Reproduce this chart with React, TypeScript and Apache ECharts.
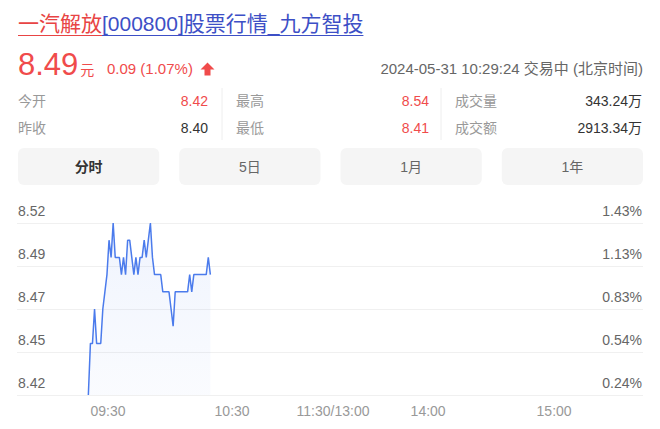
import React, { useEffect, useRef } from 'react';
import * as echarts from 'echarts';

// ---- header texts ----
const stockName = '一汽解放';
const titleRest = '[000800]股票行情_九方智投';
const lastPrice = '8.49';
const priceUnit = '元';
const changeText = '0.09 (1.07%)';
const timeText = '2024-05-31 10:29:24 交易中 (北京时间)';
const statLabels = [['今开', '昨收'], ['最高', '最低'], ['成交量', '成交额']];
const statValues = [['8.42', '8.40'], ['8.54', '8.41'], ['343.24万', '2913.34万']];
const statIsRed = [[true, false], [true, true], [false, false]];
const tabs = ['分时', '5日', '1月', '1年'];

// ---- intraday data: one price per minute from 09:30 ----
const minutePrices = [
  8.42, 8.45, 8.45, 8.47, 8.45, 8.45, 8.45, 8.47, 8.48, 8.49,
  8.51, 8.50, 8.52, 8.50, 8.50, 8.50, 8.49, 8.50, 8.49, 8.51,
  8.51, 8.50, 8.49, 8.50, 8.49, 8.50, 8.50, 8.51, 8.50, 8.51,
  8.52, 8.50, 8.49, 8.49, 8.49, 8.49, 8.48, 8.48, 8.48, 8.48,
  8.47, 8.46, 8.48, 8.48, 8.48, 8.48, 8.48, 8.48, 8.48, 8.49,
  8.48, 8.49, 8.49, 8.49, 8.49, 8.49, 8.49, 8.49, 8.50, 8.49,
];

// ---- axes ----
const yMin = 8.42;
const yMax = 8.52;
const yStep = 0.025;
const priceTickLabels = ['8.42', '8.45', '8.47', '8.49', '8.52'];
const pctTickLabels = ['0.24%', '0.54%', '0.83%', '1.13%', '1.43%'];
const timeTickLabels = ['09:30', '10:30', '11:30/13:00', '14:00', '15:00'];
const timeTickAt = [9.5, 69.5, 118.3, 164.3, 225.2];
const xMin = -34.5;
const xMax = 268.2;

const FF = "'Liberation Sans', 'Noto Sans CJK SC', sans-serif";
const RED = '#f04b4b';
const BLUE = '#3d4fc6';

export default function App() {
  const ref = useRef<HTMLDivElement>(null);

  useEffect(() => {
    const el = ref.current!;
    const chart = echarts.init(el, null, { renderer: 'svg' });

    const ctx = document.createElement('canvas').getContext('2d')!;
    const measure = (t: string, size: number, weight = 'normal') => {
      ctx.font = `${weight} ${size}px ${FF}`;
      return ctx.measureText(t).width;
    };

    const txt = (
      text: string, x: number, y: number, size: number, fill: string,
      align = 'left', weight = 'normal'
    ) => ({
      type: 'text', x, y, silent: true,
      style: {
        text, fill, fontSize: size, fontFamily: FF, fontWeight: weight,
        align, verticalAlign: 'middle', textAlign: align, textVerticalAlign: 'middle',
      },
    });

    const elements: any[] = [];
    // title
    const titleSize = 21;
    const w1 = measure(stockName, titleSize);
    const w2 = measure(titleRest, titleSize);
    elements.push(txt(stockName, 18, 23, titleSize, '#e84444'));
    elements.push(txt(titleRest, 18 + w1, 23, titleSize, BLUE));
    elements.push({ type: 'line', silent: true, shape: { x1: 18, y1: 35.5, x2: 18 + w1, y2: 35.5 }, style: { stroke: '#e84444', lineWidth: 1 } });
    elements.push({ type: 'line', silent: true, shape: { x1: 18 + w1, y1: 35.5, x2: 18 + w1 + w2, y2: 35.5 }, style: { stroke: BLUE, lineWidth: 1 } });

    // price line
    const pw = measure(lastPrice, 31);
    elements.push(txt(lastPrice, 18, 64, 31, RED));
    elements.push(txt(priceUnit, 18 + pw + 2, 69.5, 14, RED));
    elements.push(txt(changeText, 107, 68.5, 15, RED));
    elements.push({
      type: 'polygon', silent: true,
      shape: { points: [[207.5, 62.5], [214.5, 69.5], [210.5, 69.5], [210.5, 75.5], [204.5, 75.5], [204.5, 69.5], [200.5, 69.5]] },
      style: { fill: RED },
    });
    elements.push(txt(timeText, 643, 68, 15, '#666', 'right'));

    // stats
    const labelX = [18, 236, 455];
    const valueX = [208, 429, 642];
    const rowY = [101, 128];
    for (let c = 0; c < 3; c++) {
      for (let r = 0; r < 2; r++) {
        elements.push(txt(statLabels[c][r], labelX[c], rowY[r], 14, '#999'));
        elements.push(txt(statValues[c][r], valueX[c], rowY[r], 14, statIsRed[c][r] ? RED : '#333', 'right'));
      }
    }
    [222, 441].forEach((x) => {
      elements.push({ type: 'line', silent: true, shape: { x1: x, y1: 88, x2: x, y2: 140 }, style: { stroke: '#eeeeee', lineWidth: 1 } });
    });

    // tabs
    const tabW = 141.25;
    const tabGap = 20;
    tabs.forEach((t, i) => {
      const x = 18 + i * (tabW + tabGap);
      elements.push({ type: 'rect', silent: true, shape: { x, y: 148, width: tabW, height: 37, r: 6 }, style: { fill: '#f5f5f5' } });
      elements.push(txt(t, x + tabW / 2, 166.5, 14, i === 0 ? '#333' : '#666', 'center', i === 0 ? 'bold' : 'normal'));
    });

    const seriesData = minutePrices.map((p, i) => [i, +(p - yMin).toFixed(4)]);
    const yLen = +(yMax - yMin).toFixed(4);

    const option: any = {
      animation: false,
      backgroundColor: '#ffffff',
      textStyle: { fontFamily: FF },
      grid: { left: 17, right: 17, top: 223, bottom: 34, containLabel: false, outerBoundsMode: 'none' },
      xAxis: {
        type: 'value', min: xMin, max: xMax,
        axisLine: { show: false }, axisTick: { show: false }, splitLine: { show: false },
        axisLabel: {
          customValues: timeTickAt,
          color: '#999', fontSize: 14, margin: 9, fontFamily: FF,
          formatter: (v: number) => {
            let best = 0;
            timeTickAt.forEach((t, i) => { if (Math.abs(t - v) < Math.abs(timeTickAt[best] - v)) best = i; });
            return timeTickLabels[best];
          },
        },
      },
      yAxis: [
        {
          type: 'value', min: 0, max: yLen, interval: yStep, position: 'left',
          axisLine: { show: false }, axisTick: { show: false },
          splitLine: { show: true, lineStyle: { color: '#f0f0f0', width: 1 } },
          axisLabel: {
            inside: true, margin: 1, verticalAlign: 'bottom', padding: [0, 0, 5, 0],
            color: '#666', fontSize: 14, fontFamily: FF,
            formatter: (v: number) => priceTickLabels[Math.round(v / yStep)] ?? '',
          },
        },
        {
          type: 'value', min: 0, max: yLen, interval: yStep, position: 'right',
          axisLine: { show: false }, axisTick: { show: false }, splitLine: { show: false },
          axisLabel: {
            inside: true, margin: 1, verticalAlign: 'bottom', padding: [0, 0, 5, 0],
            color: '#666', fontSize: 14, fontFamily: FF,
            formatter: (v: number) => pctTickLabels[Math.round(v / yStep)] ?? '',
          },
        },
      ],
      series: [
        {
          type: 'line', data: seriesData, yAxisIndex: 0,
          symbol: 'none', showSymbol: false, silent: true,
          lineStyle: { color: '#4b7bec', width: 1.5 },
          areaStyle: {
            color: new echarts.graphic.LinearGradient(0, 0, 0, 1, [
              { offset: 0, color: 'rgba(75,123,236,0.12)' },
              { offset: 1, color: 'rgba(75,123,236,0.04)' },
            ]),
          },
        },
      ],
      graphic: { elements },
    };

    chart.setOption(option);
    return () => chart.dispose();
  }, []);

  return (
    <div
      ref={ref}
      style={{ position: 'fixed', left: 0, top: 0, width: 660, height: 429, background: '#fff' }}
    />
  );
}
